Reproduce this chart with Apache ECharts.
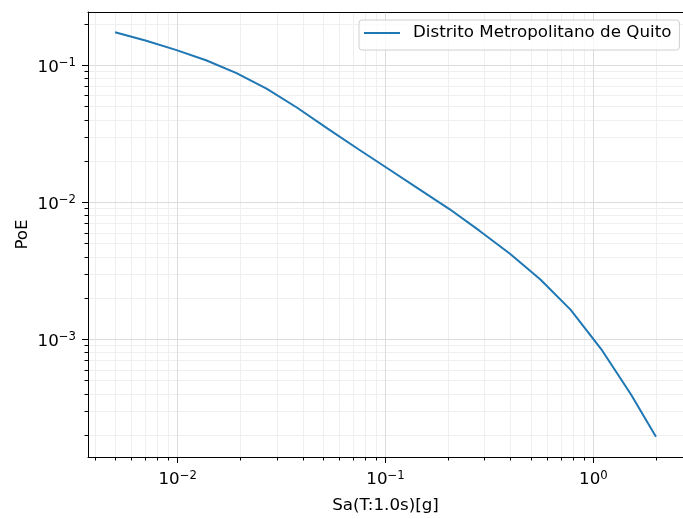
<!DOCTYPE html>
<html>
<head>
<meta charset="utf-8">
<script src="https://cdn.jsdelivr.net/npm/echarts@6/dist/echarts.min.js"></script>
<style>
  html, body { margin: 0; padding: 0; background: #fff; }
  #chart { width: 683px; height: 519px; }
</style>
</head>
<body>
<div id="chart"></div>
<script>
// Hazard curve: spectral acceleration (g) vs probability of exceedance
const seriesName = 'Distrito Metropolitano de Quito';
const imlValues = [0.005, 0.007, 0.0098, 0.0137, 0.0192, 0.0269, 0.0376, 0.0527, 0.0738,
                   0.103, 0.145, 0.203, 0.284, 0.397, 0.556, 0.778, 1.09, 1.52, 2.0];
const poeValues = [0.1743, 0.1518, 0.1295, 0.1089, 0.0878, 0.0672, 0.0490, 0.0345, 0.0245,
                   0.0176, 0.01248, 0.00894, 0.00619, 0.00422, 0.002735, 0.001644, 0.000851,
                   0.000395, 0.000195];

// Decade ticks and the 2..9 subdivisions between them
const xMajorTicks = [0.01, 0.1, 1];
const xMinorTicks = [0.004, 0.005, 0.006, 0.007, 0.008, 0.009,
                     0.02, 0.03, 0.04, 0.05, 0.06, 0.07, 0.08, 0.09,
                     0.2, 0.3, 0.4, 0.5, 0.6, 0.7, 0.8, 0.9, 2];
const yMajorTicks = [0.001, 0.01, 0.1];
const yMinorTicks = [0.0002, 0.0003, 0.0004, 0.0005, 0.0006, 0.0007, 0.0008, 0.0009,
                     0.002, 0.003, 0.004, 0.005, 0.006, 0.007, 0.008, 0.009,
                     0.02, 0.03, 0.04, 0.05, 0.06, 0.07, 0.08, 0.09, 0.2];

// Axis limits pad the data by 5% of its span in log space
function paddedRange(vals) {
  const lo = Math.log10(Math.min(...vals));
  const hi = Math.log10(Math.max(...vals));
  const pad = (hi - lo) * 0.05;
  return [Math.pow(10, lo - pad), Math.pow(10, hi + pad)];
}
const [xMin, xMax] = paddedRange(imlValues);
const [yMin, yMax] = paddedRange(poeValues);

const FONT = 'DejaVu Sans';
const FS = 16.7;
const powLabel = v => {
  const e = Math.round(Math.log10(v));
  return '{b|10}{s|' + (e < 0 ? '\u2212' + (-e) : e) + '}';
};
const powRich = {
  b: { fontFamily: FONT, fontSize: FS, lineHeight: 20, color: '#000' },
  s: { fontFamily: FONT, fontSize: 11.7, lineHeight: 10, verticalAlign: 'top', color: '#000' }
};

const chart = echarts.init(document.getElementById('chart'), null, { renderer: 'canvas' });
chart.setOption({
  animation: false,
  backgroundColor: '#ffffff',
  textStyle: { fontFamily: FONT },
  grid: { left: 88, top: 12, width: 600, height: 447, containLabel: false },
  legend: {
    data: [{ name: seriesName, icon: 'rect' }],
    left: 359, top: 20,
    itemWidth: 36, itemHeight: 2,
    padding: [3, 8, 7, 5],
    backgroundColor: 'rgba(255,255,255,0.8)',
    borderColor: '#d0d0d0', borderWidth: 1, borderRadius: 3,
    textStyle: { fontFamily: FONT, fontSize: FS, lineHeight: 20, color: '#000', padding: [0, 0, 0, 8] }
  },
  xAxis: [
    {
      type: 'log', min: xMin, max: xMax, position: 'bottom',
      name: 'Sa(T:1.0s)[g]', nameLocation: 'middle', nameGap: 40, nameMoveOverlap: false,
      nameTextStyle: { fontFamily: FONT, fontSize: FS, color: '#000' },
      axisLine: { show: true, lineStyle: { color: '#000', width: 1 } },
      axisTick: { show: true, length: 6, customValues: xMajorTicks, lineStyle: { color: '#000', width: 1 } },
      axisLabel: { show: true, customValues: xMajorTicks, margin: 13, formatter: powLabel, rich: powRich },
      splitLine: { show: true, lineStyle: { color: '#dcdcdc', width: 1 } },
      z: 3
    },
    {
      type: 'log', min: xMin, max: xMax, position: 'bottom',
      axisLine: { show: false },
      axisTick: { show: true, length: 3.5, customValues: xMinorTicks, lineStyle: { color: '#000', width: 1 } },
      axisLabel: { show: false },
      splitLine: { show: true, lineStyle: { color: '#efefef', width: 1 } },
      z: 1
    },
    {
      type: 'log', min: xMin, max: xMax, position: 'top',
      axisLine: { show: true, lineStyle: { color: '#000', width: 1 } },
      axisTick: { show: false }, axisLabel: { show: false }, splitLine: { show: false },
      z: 10
    }
  ],
  yAxis: [
    {
      type: 'log', min: yMin, max: yMax, position: 'left',
      name: 'PoE', nameLocation: 'middle', nameGap: 57, nameMoveOverlap: false,
      nameTextStyle: { fontFamily: FONT, fontSize: FS, color: '#000' },
      axisLine: { show: true, lineStyle: { color: '#000', width: 1 } },
      axisTick: { show: true, length: 6, customValues: yMajorTicks, lineStyle: { color: '#000', width: 1 } },
      axisLabel: { show: true, customValues: yMajorTicks, margin: 12, padding: [4, 0, 0, 0],
                   formatter: powLabel, rich: powRich },
      splitLine: { show: true, lineStyle: { color: '#dcdcdc', width: 1 } },
      z: 3
    },
    {
      type: 'log', min: yMin, max: yMax, position: 'left',
      axisLine: { show: false },
      axisTick: { show: true, length: 3.5, customValues: yMinorTicks, lineStyle: { color: '#000', width: 1 } },
      axisLabel: { show: false },
      splitLine: { show: true, lineStyle: { color: '#efefef', width: 1 } },
      z: 1
    }
  ],
  series: [{
    name: seriesName,
    type: 'line',
    xAxisIndex: 0, yAxisIndex: 0,
    data: imlValues.map((x, i) => [x, poeValues[i]]),
    showSymbol: false, symbol: 'none',
    lineStyle: { color: '#1f77b4', width: 2 },
    itemStyle: { color: '#1f77b4' },
    z: 5
  }]
});
</script>
</body>
</html>
